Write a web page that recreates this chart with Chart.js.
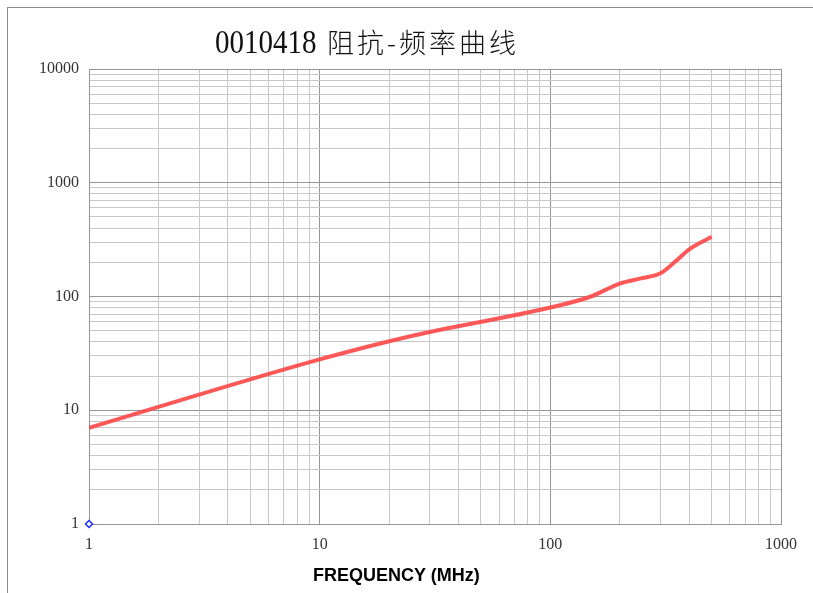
<!DOCTYPE html>
<html>
<head>
<meta charset="utf-8">
<script src="https://cdn.jsdelivr.net/npm/chart.js@4"></script>
<style>
  html, body { margin: 0; padding: 0; background: #fff; }
  #wrap { position: relative; width: 813px; height: 593px; overflow: hidden; }
  #frame { position: absolute; left: 7px; top: 7px; right: -5px; bottom: -5px;
           border-top: 1.5px solid #8a8a8a; border-left: 1.5px solid #8a8a8a; }
  #title { position: absolute; left: 215px; top: 22px; color: #111; white-space: nowrap; }
  #title .num { display: inline-block; font-family: "Liberation Serif", serif; font-size: 33px;
                transform: scaleX(0.88); transform-origin: left center; width: 112px; }
  #title .zh { font-family: "Noto Sans CJK SC", sans-serif; font-size: 27px; letter-spacing: 3px; font-weight: 300; }
  #xtitle { position: absolute; left: 313px; top: 565px; font: bold 18px "Liberation Sans", Arial, sans-serif;
            color: #000; white-space: nowrap; }
  canvas { position: absolute; left: 0; top: 0; }
</style>
</head>
<body>
<div id="wrap">
  <div id="frame"></div>
  <canvas id="chart" width="813" height="593"></canvas>
  <div id="title"><span class="num">0010418</span><span class="zh">阻抗-频率曲线</span></div>
  <div id="xtitle">FREQUENCY (MHz)</div>
</div>
<script>
// values
const freqMHz   = [1, 10, 25, 100, 150, 200, 250, 300, 350, 400, 500]
const impedance = [7, 28, 45, 80, 100, 130, 145, 160, 205, 260, 335]
const markerFreq = [1]
const markerImp  = [1]
const xTickLabels = [1, 10, 100, 1000]
const yTickLabels = [1, 10, 100, 1000, 10000]

// grid lines at 1..9 of every decade
function gridValues(decades) {
  let vals = []
  for (let i = 0; i < decades.length - 1; i++) {
    for (let m = 1; m < 10; m++) vals.push(decades[i] * m)
  }
  vals.push(decades[decades.length - 1])
  return vals
}

function isMajor(v, labels) {
  return labels.indexOf(v) !== -1
}

const tickFont = { family: '"Liberation Serif", serif', size: 16 }

function logAxis(labels, fitFn, pad) {
  return {
    type: 'logarithmic',
    min: labels[0],
    max: labels[labels.length - 1],
    afterBuildTicks: function (scale) {
      scale.ticks = gridValues(labels).map(v => ({ value: v }))
    },
    afterFit: fitFn,
    ticks: {
      autoSkip: false,
      maxRotation: 0,
      padding: pad,
      color: '#333',
      font: tickFont,
      callback: function (v) { return isMajor(v, labels) ? String(v) : '' }
    },
    grid: {
      drawTicks: false,
      lineWidth: 1,
      color: function (ctx) {
        return ctx.tick && isMajor(ctx.tick.value, labels) ? '#959595' : '#c8c8c8'
      }
    },
    border: { display: true, color: '#959595', width: 1 }
  }
}

const ctx = document.getElementById('chart')

new Chart(ctx, {
  type: 'line',
  data: {
    datasets: [{
      data: freqMHz.map((f, i) => ({ x: f, y: impedance[i] })),
      borderColor: 'rgba(255, 70, 70, 0.9)',
      borderWidth: 4,
      pointRadius: 0,
      cubicInterpolationMode: 'monotone',
      fill: false
    }, {
      data: markerFreq.map((f, i) => ({ x: f, y: markerImp[i] })),
      showLine: false,
      pointStyle: 'rectRot',
      pointRadius: 3.5,
      borderColor: '#1f2bff',
      backgroundColor: '#fff',
      borderWidth: 1.5,
      clip: false
    }]
  },
  options: {
    responsive: false,
    animation: false,
    layout: { padding: { left: 0, right: 32, top: 69, bottom: 0 } },
    plugins: { legend: { display: false }, tooltip: { enabled: false } },
    scales: {
      x: logAxis(xTickLabels, s => { s.height = 69 }, 11),
      y: logAxis(yTickLabels, s => { s.width = 89 }, 10)
    }
  }
})
</script>
</body>
</html>
